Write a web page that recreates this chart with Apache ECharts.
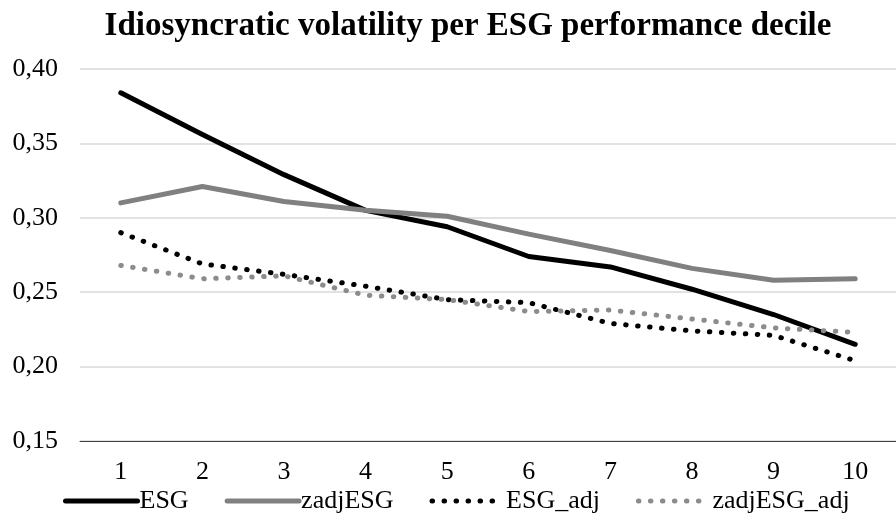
<!DOCTYPE html>
<html>
<head>
<meta charset="utf-8">
<style>
  html, body { margin: 0; padding: 0; background: #fff; }
  #chart { width: 896px; height: 515px; }
</style>
<script src="https://cdn.jsdelivr.net/npm/echarts@6/dist/echarts.min.js"></script>
</head>
<body>
<div id="chart"></div>
<script>
// ESG performance deciles (1 = lowest, 10 = highest)
const deciles = ['1', '2', '3', '4', '5', '6', '7', '8', '9', '10'];

// Average idiosyncratic volatility per decile
const esg          = [0.384, 0.356, 0.329, 0.305, 0.294, 0.274, 0.267, 0.252, 0.235, 0.215];
const zadjEsg      = [0.310, 0.321, 0.311, 0.305, 0.301, 0.289, 0.278, 0.266, 0.258, 0.259];
const esgAdj       = [0.290, 0.269, 0.262, 0.254, 0.245, 0.243, 0.229, 0.224, 0.221, 0.204];
const zadjEsgAdj   = [0.268, 0.259, 0.261, 0.248, 0.245, 0.237, 0.238, 0.232, 0.226, 0.223];

const FONT = "'Liberation Serif', 'Times New Roman', serif";

const chart = echarts.init(document.getElementById('chart'), null, { renderer: 'canvas' });

function lineSeries(name, data, color, dotted) {
  return {
    name: name,
    type: 'line',
    data: data,
    symbol: 'none',
    smooth: false,
    silent: true,
    itemStyle: { color: color },
    lineStyle: dotted
      ? { color: color, width: 5, type: [0.5, 11.5], cap: 'round', join: 'round' }
      : { color: color, width: 5, type: 'solid', cap: 'round', join: 'round' }
  };
}

chart.setOption({
  animation: false,
  backgroundColor: '#ffffff',
  title: {
    text: 'Idiosyncratic volatility per ESG performance decile',
    left: 463,
    textAlign: 'center',
    top: 5,
    textStyle: { fontFamily: FONT, fontSize: 33, fontWeight: 'bold', color: '#000' }
  },
  legend: {
    top: 483,
    left: 58,
    itemWidth: 72,
    itemHeight: 8,
    itemGap: 36,
    itemStyle: { opacity: 0, borderWidth: 0 },
    lineStyle: { width: 5, cap: 'round' },
    textStyle: { fontFamily: FONT, fontSize: 26, color: '#000', padding: [0, 0, 0, -3] },
    data: ['ESG', 'zadjESG', 'ESG_adj', 'zadjESG_adj']
  },
  grid: { left: 80, right: 0, top: 69, bottom: 74, containLabel: false },
  xAxis: {
    type: 'category',
    data: deciles,
    boundaryGap: true,
    axisLine: { show: true, lineStyle: { color: '#404040', width: 1 } },
    axisTick: { show: false },
    axisLabel: { fontFamily: FONT, fontSize: 26, color: '#000', margin: 18 },
    splitLine: { show: false }
  },
  yAxis: {
    type: 'value',
    min: 0.15,
    max: 0.40,
    interval: 0.05,
    axisLine: { show: false },
    axisTick: { show: false },
    axisLabel: {
      fontFamily: FONT, fontSize: 26, color: '#000', margin: 22,
      formatter: v => v.toFixed(2).replace('.', ',')
    },
    splitLine: { show: true, lineStyle: { color: '#d9d9d9', width: 1.5 } }
  },
  series: [
    lineSeries('ESG', esg, '#000000', false),
    lineSeries('zadjESG', zadjEsg, '#808080', false),
    lineSeries('ESG_adj', esgAdj, '#000000', true),
    lineSeries('zadjESG_adj', zadjEsgAdj, '#8c8c8c', true)
  ]
});
</script>
</body>
</html>
